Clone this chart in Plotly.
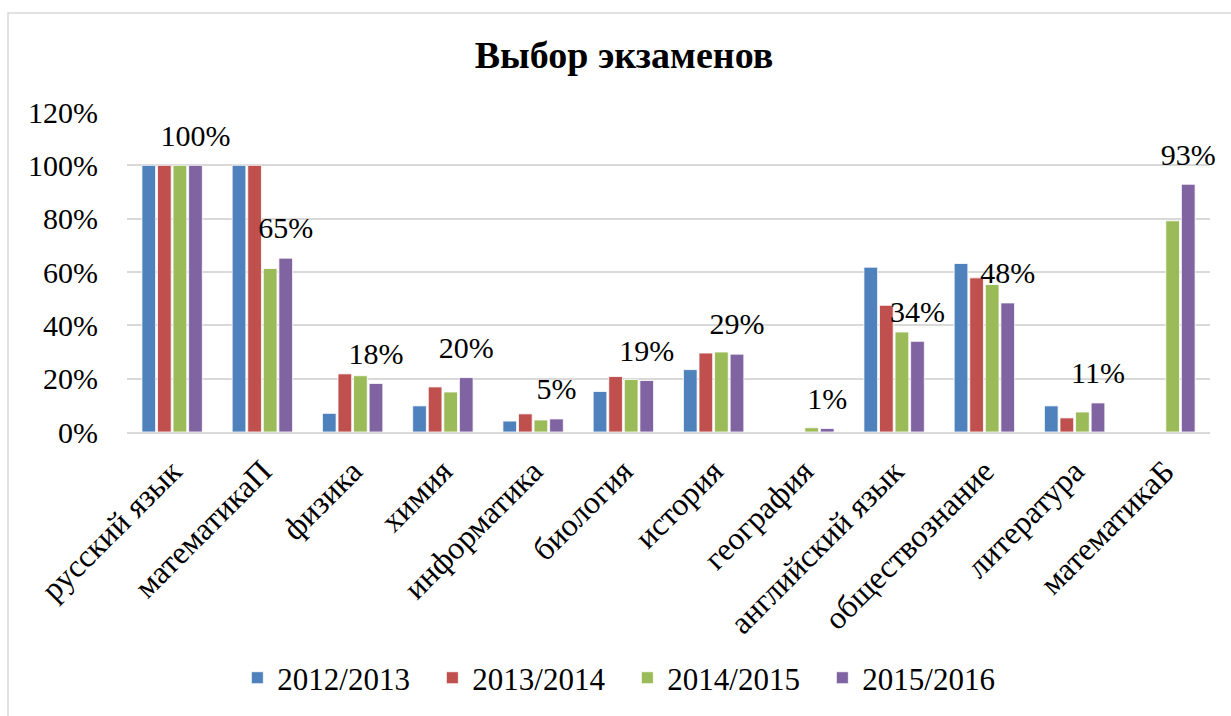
import plotly.graph_objects as go

categories = ["русский язык", "математикаП", "физика", "химия", "информатика",
              "биология", "история", "география", "английский язык",
              "обществознание", "литература", "математикаБ"]
years = ["2012/2013", "2013/2014", "2014/2015", "2015/2016"]
v_2012_2013 = [1.00, 1.00, 0.070, 0.098, 0.041, 0.152, 0.234, None, 0.618, 0.632, 0.098, None]
v_2013_2014 = [1.00, 1.00, 0.218, 0.169, 0.068, 0.208, 0.296, None, 0.475, 0.578, 0.053, None]
v_2014_2015 = [1.00, 0.613, 0.211, 0.150, 0.045, 0.197, 0.300, 0.016, 0.375, 0.553, 0.075, 0.792]
v_2015_2016 = [1.00, 0.652, 0.182, 0.204, 0.049, 0.193, 0.292, 0.013, 0.340, 0.484, 0.109, 0.929]
series = [v_2012_2013, v_2013_2014, v_2014_2015, v_2015_2016]
labelled = [False, False, False, True]
colors = ["#4F81BD", "#C0504D", "#9BBB59", "#8064A2"]

FONT = "Liberation Serif, Times New Roman, serif"
FS = 30
BARGAP = 0.31

fig = go.Figure()
for i, (name, vals, col) in enumerate(zip(years, series, colors)):
    fig.add_trace(go.Bar(
        x=categories, y=vals, name=name, offsetgroup=str(i),
        marker=dict(color=col, line=dict(color="white", width=0.8)),
        hoverinfo="skip",
    ))
# data labels (grouped scatter aligned with the bars)
for i, (vals, lab) in enumerate(zip(series, labelled)):
    fig.add_trace(go.Scatter(
        x=categories, y=vals, offsetgroup=str(i),
        mode="markers+text" if lab else "markers",
        texttemplate="%{y:.0%}" if lab else None,
        textposition="top center",
        textfont=dict(family=FONT, size=FS, color="black"),
        marker=dict(size=18, opacity=0),
        showlegend=False, hoverinfo="skip", cliponaxis=False,
    ))

fig.update_layout(
    width=1231, height=716,
    paper_bgcolor="white", plot_bgcolor="white",
    margin=dict(l=127, r=21, t=112, b=284, autoexpand=False),
    barmode="group", bargap=BARGAP, bargroupgap=0.12,
    scattermode="group", scattergap=BARGAP,
    font=dict(family=FONT, size=FS, color="black"),
    title=dict(text="<b>Выбор экзаменов</b>", x=624 / 1231, xanchor="center",
               y=1 - 55 / 716, yanchor="middle", yref="container",
               font=dict(family=FONT, size=38, color="black")),
    showlegend=True,
    legend=dict(orientation="h", x=0.462, xanchor="center", y=-0.769, yanchor="middle",
                font=dict(family=FONT, size=31, color="black"),
                entrywidth=150, entrywidthmode="pixels",
                traceorder="normal", itemclick=False),
    xaxis=dict(type="category", tickangle=-45, showgrid=False, showline=True,
               linecolor="#D9D9D9", linewidth=1.5, ticks="", automargin=False,
               ticklabelstandoff=6,
               tickfont=dict(family=FONT, size=32, color="black")),
    yaxis=dict(range=[0, 1.2], dtick=0.2, tickformat=".0%", showgrid=True,
               gridcolor="#D9D9D9", gridwidth=1.5, zeroline=False, showline=False,
               ticks="", ticklabelstandoff=28, automargin=False,
               tickfont=dict(family=FONT, size=FS, color="black")),
    shapes=[dict(type="rect", xref="paper", yref="paper",
                 x0=(8 - 127) / 1083, x1=(1240 - 127) / 1083,
                 y0=(432 - 730) / 320, y1=(432 - 13) / 320,
                 line=dict(color="#D9D9D9", width=1.5), layer="below")],
)

fig.write_html("out.html", config={"displayModeBar": False},
               post_script="document.body.style.margin='0';document.body.style.overflow='hidden';")
